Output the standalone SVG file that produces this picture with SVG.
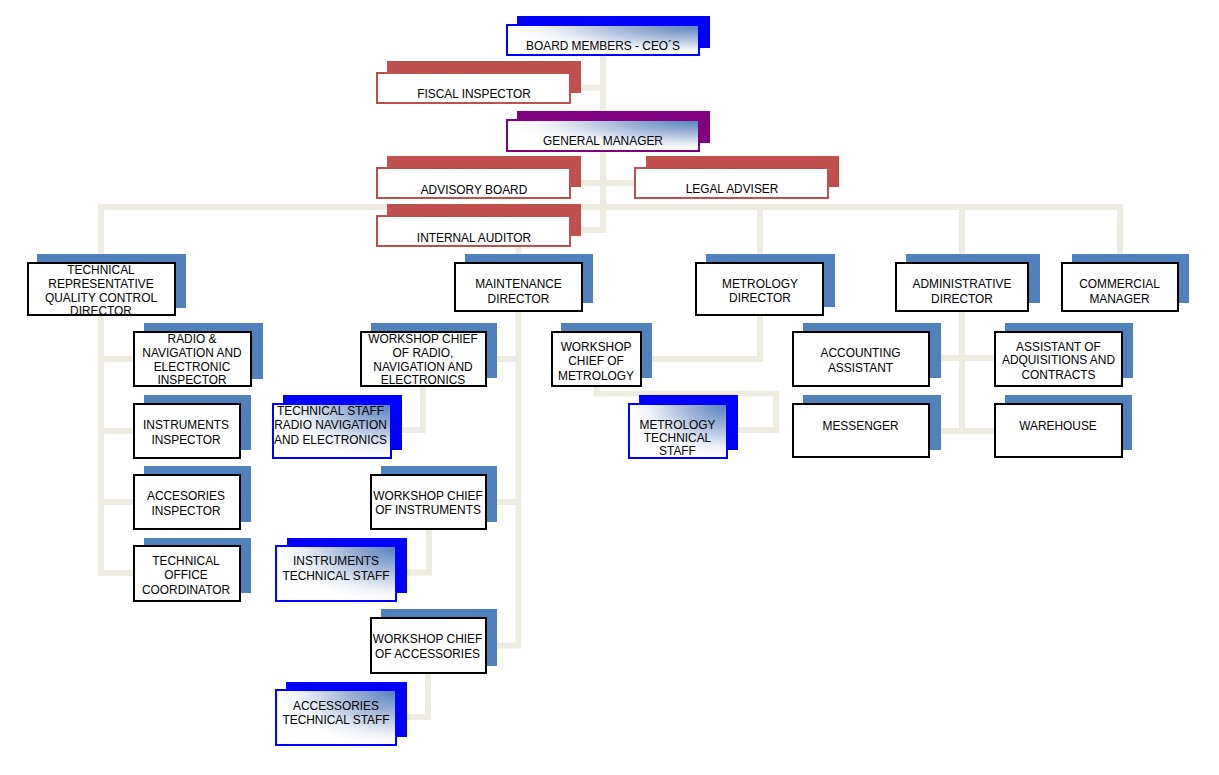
<svg xmlns="http://www.w3.org/2000/svg" width="1219" height="775" viewBox="0 0 1219 775">
<defs>
<radialGradient id="g" cx="1" cy="0" r="1" fx="1" fy="0">
<stop offset="0" stop-color="#4F81BD"/>
<stop offset="0.4" stop-color="#9DB3D6"/>
<stop offset="0.8" stop-color="#EEF2F8"/>
<stop offset="1" stop-color="#FFFFFF"/>
</radialGradient>
<style>
.shb{fill:#4F81BD}
.shu{fill:#0000FF}
.shr{fill:#C0504D}
.shp{fill:#800080}
.bx{fill:#fff;stroke:#000;stroke-width:2}
.rd{fill:#fff;stroke:#C0504D;stroke-width:2}
.gb{fill:url(#g);stroke:#0000FF;stroke-width:2}
.gp{fill:url(#g);stroke:#800080;stroke-width:2}
text{font-family:"Liberation Sans",Arial,sans-serif;font-size:11.9px;fill:#000;text-anchor:middle}
.c{fill:none;stroke:#EEECE1;stroke-width:6}
</style>
</defs>
<rect width="1219" height="775" fill="#fff"/>
<g id="connectors">
<path class="c" d="M603,56 V230 H581"/>
<path class="c" d="M603,87.5 H581"/>
<path class="c" d="M581,183 H634"/>
<path class="c" d="M101,262 V207 H1120 V262"/>
<path class="c" d="M518.5,207 V262"/>
<path class="c" d="M760,207 V262"/>
<path class="c" d="M962,207 V262"/>
<path class="c" d="M101,316 V573 H135"/>
<path class="c" d="M101,359 H135"/>
<path class="c" d="M101,431 H135"/>
<path class="c" d="M101,502 H135"/>
<path class="c" d="M518.5,312 V645.5 H496"/>
<path class="c" d="M518.5,359 H496"/>
<path class="c" d="M518.5,502 H496"/>
<path class="c" d="M423,387 V430 H401"/>
<path class="c" d="M429,530 V572.5 H406"/>
<path class="c" d="M428,674 V717 H406"/>
<path class="c" d="M760,316 V359 H651"/>
<path class="c" d="M596.5,387 V393.5 H776 V430 H737"/>
<path class="c" d="M962,312 V431"/>
<path class="c" d="M941,358 H994"/>
<path class="c" d="M941,431 H994"/>
</g>
<g id="board">
<rect class="shu" x="517" y="16" width="193" height="32"/>
<rect class="gb" x="507" y="25" width="192" height="30"/>
<text x="603" y="50.3">BOARD MEMBERS - CEO´S</text>
</g>
<g id="fiscal">
<rect class="shr" x="387" y="61" width="194" height="32"/>
<rect class="rd" x="377" y="73" width="193" height="30"/>
<text x="474" y="97.6">FISCAL INSPECTOR</text>
</g>
<g id="general">
<rect class="shp" x="517" y="111" width="193" height="32"/>
<rect class="gp" x="507" y="120" width="192" height="31"/>
<text x="603" y="145.3">GENERAL MANAGER</text>
</g>
<g id="advisory">
<rect class="shr" x="387" y="156" width="194" height="31"/>
<rect class="rd" x="377" y="168" width="193" height="30"/>
<text x="474" y="194.3">ADVISORY BOARD</text>
</g>
<g id="legal">
<rect class="shr" x="646" y="156" width="193" height="31"/>
<rect class="rd" x="635" y="168" width="193" height="30"/>
<text x="732" y="192.6">LEGAL ADVISER</text>
</g>
<g id="internal">
<rect class="shr" x="387" y="204" width="194" height="32"/>
<rect class="rd" x="377" y="216" width="193" height="30"/>
<text x="474" y="242">INTERNAL AUDITOR</text>
</g>
<g id="techrep">
<rect class="shb" x="37" y="254" width="149" height="54"/>
<rect class="bx" x="28" y="263" width="147" height="52"/>
<text x="101" y="273.6">TECHNICAL</text>
<text x="101" y="287.6">REPRESENTATIVE</text>
<text x="101" y="301.6">QUALITY CONTROL</text>
<text x="101" y="315">DIRECTOR</text>
</g>
<g id="maintenance">
<rect class="shb" x="465" y="254" width="128" height="49"/>
<rect class="bx" x="455" y="263" width="127" height="48"/>
<text x="518.5" y="287.6">MAINTENANCE</text>
<text x="518.5" y="302.6">DIRECTOR</text>
</g>
<g id="metrologydir">
<rect class="shb" x="706" y="254" width="129" height="53"/>
<rect class="bx" x="696" y="263" width="127" height="52"/>
<text x="760" y="287.6">METROLOGY</text>
<text x="760" y="302">DIRECTOR</text>
</g>
<g id="admin">
<rect class="shb" x="906" y="254" width="134" height="49"/>
<rect class="bx" x="896" y="263" width="132" height="48"/>
<text x="962" y="287.6">ADMINISTRATIVE</text>
<text x="962" y="302.6">DIRECTOR</text>
</g>
<g id="commercial">
<rect class="shb" x="1072" y="254" width="117" height="49"/>
<rect class="bx" x="1062" y="263" width="116" height="48"/>
<text x="1119.5" y="287.6">COMMERCIAL</text>
<text x="1119.5" y="302.6">MANAGER</text>
</g>
<g id="radioinsp">
<rect class="shb" x="144" y="323" width="119" height="56"/>
<rect class="bx" x="134" y="332" width="117" height="54"/>
<text x="192" y="342.6">RADIO &amp;</text>
<text x="192" y="357">NAVIGATION AND</text>
<text x="192" y="371">ELECTRONIC</text>
<text x="192" y="384.3">INSPECTOR</text>
</g>
<g id="instinsp">
<rect class="shb" x="144" y="395" width="107" height="55"/>
<rect class="bx" x="134" y="404" width="106" height="54"/>
<text x="186" y="428.6">INSTRUMENTS</text>
<text x="186" y="443.6">INSPECTOR</text>
</g>
<g id="accinsp">
<rect class="shb" x="144" y="466" width="107" height="56"/>
<rect class="bx" x="134" y="475" width="106" height="54"/>
<text x="186" y="500">ACCESORIES</text>
<text x="186" y="515">INSPECTOR</text>
</g>
<g id="techoffice">
<rect class="shb" x="144" y="538" width="107" height="55"/>
<rect class="bx" x="134" y="546" width="106" height="55"/>
<text x="186" y="565">TECHNICAL</text>
<text x="186" y="578.6">OFFICE</text>
<text x="186" y="593.6">COORDINATOR</text>
</g>
<g id="wsradio">
<rect class="shb" x="371" y="323" width="126" height="55"/>
<rect class="bx" x="361" y="332" width="125" height="54"/>
<text x="423" y="342.6">WORKSHOP  CHIEF</text>
<text x="423" y="357">OF RADIO,</text>
<text x="423" y="371">NAVIGATION AND</text>
<text x="423" y="383.6">ELECTRONICS</text>
</g>
<g id="staffradio">
<rect class="shu" x="283" y="395" width="119" height="55"/>
<rect class="gb" x="273" y="404" width="118" height="54"/>
<text x="330.5" y="415.3">TECHNICAL STAFF</text>
<text x="330.5" y="429.3">RADIO NAVIGATION</text>
<text x="330.5" y="443.6">AND ELECTRONICS</text>
</g>
<g id="wsmetrology">
<rect class="shb" x="561" y="323" width="91" height="55"/>
<rect class="bx" x="552" y="332" width="89" height="54"/>
<text x="596" y="351">WORKSHOP</text>
<text x="596" y="365">CHIEF OF</text>
<text x="596" y="379.6">METROLOGY</text>
</g>
<g id="staffmetrology">
<rect class="shu" x="639" y="395" width="99" height="55"/>
<rect class="gb" x="629" y="404" width="98" height="54"/>
<text x="677.5" y="428.6">METROLOGY</text>
<text x="677.5" y="442">TECHNICAL</text>
<text x="677.5" y="455">STAFF</text>
</g>
<g id="wsinstruments">
<rect class="shb" x="381" y="466" width="116" height="56"/>
<rect class="bx" x="371" y="475" width="115" height="54"/>
<text x="428" y="500">WORKSHOP  CHIEF</text>
<text x="428" y="514.3">OF INSTRUMENTS</text>
</g>
<g id="staffinstruments">
<rect class="shu" x="287" y="538" width="120" height="55"/>
<rect class="gb" x="276" y="546" width="120" height="55"/>
<text x="336" y="565">INSTRUMENTS</text>
<text x="336" y="579.6">TECHNICAL STAFF</text>
</g>
<g id="wsaccessories">
<rect class="shb" x="381" y="609" width="116" height="57"/>
<rect class="bx" x="371" y="618" width="115" height="55"/>
<text x="427.5" y="643.3">WORKSHOP  CHIEF</text>
<text x="427.5" y="657.6">OF ACCESSORIES</text>
</g>
<g id="staffaccessories">
<rect class="shu" x="286" y="682" width="121" height="55"/>
<rect class="gb" x="276" y="690" width="120" height="55"/>
<text x="336" y="710.3">ACCESSORIES</text>
<text x="336" y="724.3">TECHNICAL STAFF</text>
</g>
<g id="accounting">
<rect class="shb" x="803" y="323" width="138" height="55"/>
<rect class="bx" x="793" y="332" width="136" height="54"/>
<text x="860.5" y="356.6">ACCOUNTING</text>
<text x="860.5" y="371.6">ASSISTANT</text>
</g>
<g id="messenger">
<rect class="shb" x="803" y="395" width="138" height="55"/>
<rect class="bx" x="793" y="404" width="136" height="53"/>
<text x="860.5" y="429.6">MESSENGER</text>
</g>
<g id="assistant">
<rect class="shb" x="1005" y="323" width="128" height="55"/>
<rect class="bx" x="995" y="332" width="127" height="54"/>
<text x="1058.5" y="351">ASSISTANT OF</text>
<text x="1058.5" y="364.3">ADQUISITIONS AND</text>
<text x="1058.5" y="379.3">CONTRACTS</text>
</g>
<g id="warehouse">
<rect class="shb" x="1005" y="395" width="127" height="55"/>
<rect class="bx" x="995" y="404" width="127" height="53"/>
<text x="1058" y="429.6">WAREHOUSE</text>
</g>
</svg>
